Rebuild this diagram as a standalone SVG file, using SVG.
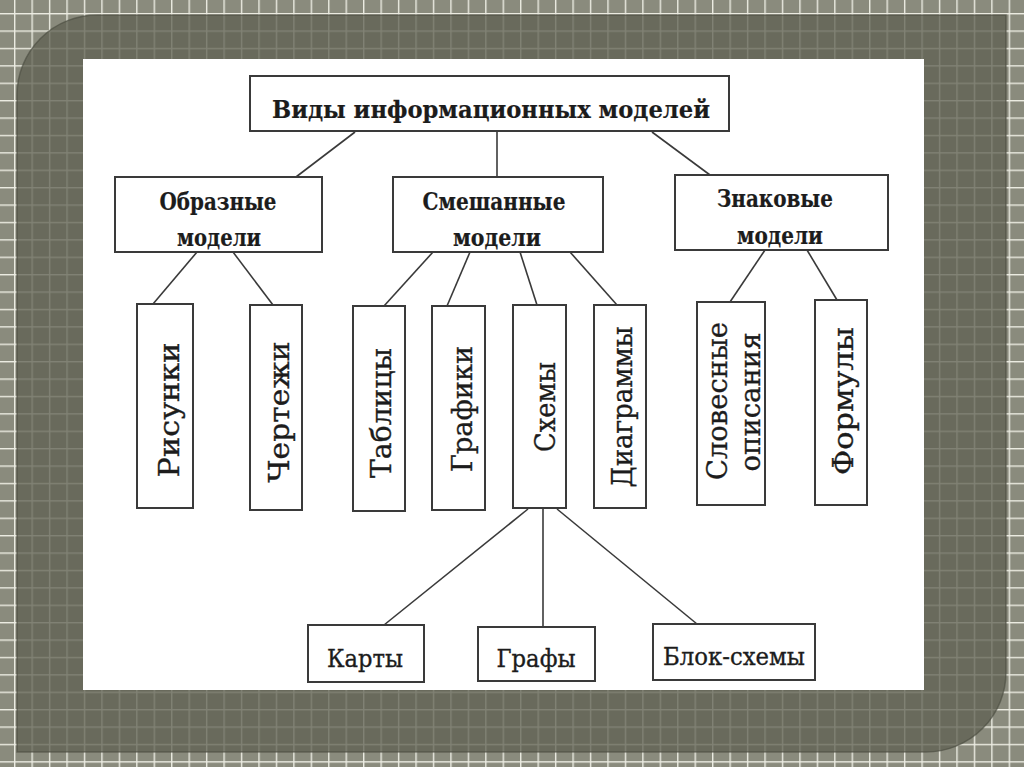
<svg xmlns="http://www.w3.org/2000/svg" width="1024" height="767" viewBox="0 0 1024 767">
  <defs>
    <pattern id="grid" x="14" y="13" width="17.45" height="17.4" patternUnits="userSpaceOnUse">
      <rect width="17.45" height="17.4" fill="#8a8b7d"/>
      <line x1="0.7" y1="0" x2="0.7" y2="17.4" stroke="#ecece2" stroke-width="1.4"/>
      <line x1="0" y1="0.7" x2="17.45" y2="0.7" stroke="#ecece2" stroke-width="1.4"/>
    </pattern>
    <style>
      .box { fill: #ffffff; stroke: #3a3a3a; stroke-width: 2; }
      .con { stroke: #3a3a3a; stroke-width: 1.6; fill: none; }
      .t { font-family: "DejaVu Serif", "Liberation Serif", serif; fill: #1c1c1c; stroke: #1c1c1c; stroke-width: 0.35; text-anchor: middle; }
      .b { font-weight: bold; stroke-width: 0.2; }
      .title { font-size: 25px; }
      .l2 { font-size: 24px; }
      .l3 { font-size: 28px; }
      .l4 { font-size: 25px; }
    </style>
  </defs>

  <!-- background -->
  <rect x="0" y="0" width="1024" height="767" fill="url(#grid)"/>
  <path d="M17,752 L17,95 A80,80 0 0 1 97,15 L1006,15 L1006,672 A80,80 0 0 1 926,752 Z" fill="#5e6052" fill-opacity="0.76" stroke="#4a4b40" stroke-opacity="0.6" stroke-width="1.5"/>
  <rect x="83" y="59" width="841" height="631" fill="#ffffff"/>

  <!-- connectors -->
  <g id="connectors">
    <line class="con" x1="355" y1="132" x2="296" y2="177"/>
    <line class="con" x1="497" y1="132" x2="497" y2="177"/>
    <line class="con" x1="652" y1="132" x2="710" y2="175"/>
    <line class="con" x1="197" y1="252" x2="153" y2="304"/>
    <line class="con" x1="233" y1="252" x2="273" y2="305"/>
    <line class="con" x1="433" y1="252" x2="384" y2="306"/>
    <line class="con" x1="470" y1="252" x2="447" y2="306"/>
    <line class="con" x1="520" y1="252" x2="537" y2="305"/>
    <line class="con" x1="570" y1="252" x2="617" y2="305"/>
    <line class="con" x1="765" y1="250" x2="730" y2="302"/>
    <line class="con" x1="807" y1="250" x2="837" y2="300"/>
    <line class="con" x1="528" y1="509" x2="384" y2="625"/>
    <line class="con" x1="543" y1="509" x2="543" y2="627"/>
    <line class="con" x1="557" y1="509" x2="697" y2="624"/>
  </g>

  <!-- nodes -->
  <g id="root">
    <rect class="box" x="250" y="76" width="479" height="55"/>
    <text class="t b title" x="491" y="118" textLength="438" lengthAdjust="spacingAndGlyphs">Виды информационных моделей</text>
  </g>

  <g id="obraznye">
    <rect class="box" x="115" y="177" width="207" height="75"/>
    <text class="t b l2" x="218" y="210" textLength="117" lengthAdjust="spacingAndGlyphs">Образные</text>
    <text class="t b l2" x="219" y="246" textLength="84" lengthAdjust="spacingAndGlyphs">модели</text>
  </g>

  <g id="smeshannye">
    <rect class="box" x="393" y="177" width="210" height="75"/>
    <text class="t b l2" x="494" y="210" textLength="143" lengthAdjust="spacingAndGlyphs">Смешанные</text>
    <text class="t b l2" x="497" y="246" textLength="88" lengthAdjust="spacingAndGlyphs">модели</text>
  </g>

  <g id="znakovye">
    <rect class="box" x="675" y="175" width="213" height="75"/>
    <text class="t b l2" x="775" y="207" textLength="116" lengthAdjust="spacingAndGlyphs">Знаковые</text>
    <text class="t b l2" x="780" y="244" textLength="86" lengthAdjust="spacingAndGlyphs">модели</text>
  </g>

  <g id="risunki">
    <rect class="box" x="137" y="304" width="56" height="204"/>
    <text class="t l3" transform="translate(179,410) rotate(-90)" textLength="135" lengthAdjust="spacingAndGlyphs">Рисунки</text>
  </g>

  <g id="chertezhi">
    <rect class="box" x="250" y="305" width="52" height="205"/>
    <text class="t l3" transform="translate(289,412) rotate(-90)" textLength="141" lengthAdjust="spacingAndGlyphs">Чертежи</text>
  </g>

  <g id="tablitsy">
    <rect class="box" x="353" y="306" width="52" height="205"/>
    <text class="t l3" transform="translate(391,413) rotate(-90)" textLength="130" lengthAdjust="spacingAndGlyphs">Таблицы</text>
  </g>

  <g id="grafiki">
    <rect class="box" x="432" y="306" width="53" height="204"/>
    <text class="t l3" transform="translate(472,409) rotate(-90)" textLength="126" lengthAdjust="spacingAndGlyphs">Графики</text>
  </g>

  <g id="skhemy">
    <rect class="box" x="513" y="305" width="53" height="203"/>
    <text class="t l3" transform="translate(555,407) rotate(-90)" textLength="90" lengthAdjust="spacingAndGlyphs">Схемы</text>
  </g>

  <g id="diagrammy">
    <rect class="box" x="594" y="305" width="52" height="203"/>
    <text class="t l3" transform="translate(632,407) rotate(-90)" textLength="161" lengthAdjust="spacingAndGlyphs">Диаграммы</text>
  </g>

  <g id="slovesnye">
    <rect class="box" x="697" y="302" width="68" height="203"/>
    <text class="t l3" transform="translate(727,401) rotate(-90)" textLength="158" lengthAdjust="spacingAndGlyphs">Словесные</text>
    <text class="t l3" transform="translate(760,402) rotate(-90)" textLength="139" lengthAdjust="spacingAndGlyphs">описания</text>
  </g>

  <g id="formuly">
    <rect class="box" x="815" y="300" width="52" height="205"/>
    <text class="t l3" transform="translate(853,401) rotate(-90)" textLength="148" lengthAdjust="spacingAndGlyphs">Формулы</text>
  </g>

  <g id="karty">
    <rect class="box" x="308" y="625" width="116" height="57"/>
    <text class="t l4" x="365" y="667" textLength="76" lengthAdjust="spacingAndGlyphs">Карты</text>
  </g>

  <g id="grafy">
    <rect class="box" x="478" y="627" width="117" height="54"/>
    <text class="t l4" x="536" y="667" textLength="79" lengthAdjust="spacingAndGlyphs">Графы</text>
  </g>

  <g id="blok-skhemy">
    <rect class="box" x="653" y="624" width="162" height="56"/>
    <text class="t l4" x="734" y="665" textLength="142" lengthAdjust="spacingAndGlyphs">Блок-схемы</text>
  </g>
</svg>
